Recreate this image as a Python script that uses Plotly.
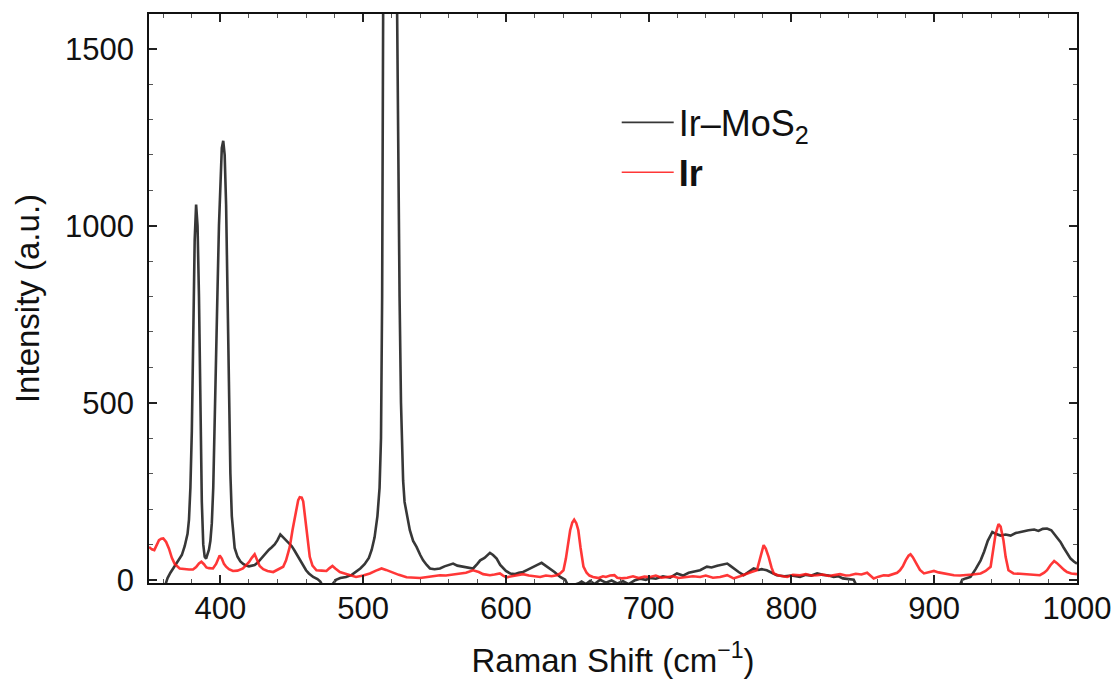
import plotly.graph_objects as go

# Ir-MoS2 spectrum (Raman shift, intensity)
mos2_x = [361, 363, 365, 367, 369, 371, 373, 375, 377, 378, 379, 380, 381, 382, 383, 384, 385, 386, 387, 388,
          389, 390, 391, 392, 393, 394, 395, 396, 397, 398, 399, 400, 401, 402, 403, 404, 405, 406, 407, 408,
          409, 410, 412, 414, 416, 418, 420, 422, 424, 426, 428, 430, 432, 434, 436, 438, 440, 442, 444, 446,
          448, 450, 452, 454, 456, 458, 460, 462, 465, 468, 470, 472, 476, 479, 481, 484, 488, 492, 495, 498,
          501, 504, 506, 508, 510, 511.5, 512.5, 513.3, 514, 515, 517, 519, 521, 523, 523.8, 524.5, 525.5, 526.5, 528, 529,
          530.4, 532.7, 535, 537.4, 540, 542, 544.5, 546.8, 550, 553.8, 557, 560, 563, 566, 570, 573, 577, 580, 582, 585,
          588.8, 591, 593.5, 596, 598, 600, 603, 606, 609, 612, 615, 619, 622, 625, 628, 631, 634, 638, 641.5, 643,
          647, 651, 653, 656, 659, 662, 666, 670, 674, 678, 682, 686, 690, 694, 698, 701, 705, 710, 715, 719.8,
          724, 728, 732, 736, 740.8, 744, 748, 751, 755, 757, 759.5, 763, 766.5, 770, 773.5, 777, 779, 782.7, 786, 789.7,
          795, 800, 806, 810, 814, 818, 822, 826, 829.6, 833, 836, 840, 843.6, 846, 900, 918, 919.6, 922, 925.4, 929,
          932.5, 935, 937.5, 940.7, 943, 946.4, 950, 953.5, 957, 960.5, 963, 966, 970, 973, 976, 979, 982, 984, 986, 988.4,
          990.5, 993, 995.5, 998, 1000]
mos2_y = [-20, 5, 20, 32, 45, 58, 70, 95, 130, 170, 260, 420, 700, 960, 1060, 1000, 800, 480, 220, 100,
          65, 60, 70, 85, 110, 160, 260, 420, 620, 820, 1000, 1140, 1220, 1240, 1200, 1060, 820, 520, 300, 180,
          120, 90, 65, 52, 45, 40, 38, 40, 42, 48, 58, 65, 75, 85, 92, 100, 112, 128, 120, 112,
          105, 95, 82, 68, 52, 38, 27, 18, 8, 2, -5, -20, -25, -10, 0, 5, 8, 14, 22, 32,
          44, 62, 85, 120, 180, 260, 400, 800, 1600, 2200, 2600, 2700, 2500, 2000, 1600, 1200, 800, 500, 280, 220,
          187, 140, 110, 93, 70, 55, 42, 32, 30, 32, 38, 42, 46, 40, 37, 35, 32, 45, 55, 62,
          76, 70, 60, 42, 32, 25, 18, 16, 20, 22, 28, 37, 42, 48, 40, 32, 22, 8, 0, -12,
          -15, -10, -5, -12, -3, -12, 0, -8, -2, -10, -4, -12, -2, 3, 0, 5, 3, 10, 6, 18,
          12, 20, 24, 27, 37, 35, 40, 42, 46, 40, 32, 22, 13, 22, 32, 28, 30, 27, 20, 13,
          10, 12, 8, 14, 12, 18, 14, 12, 8, 10, 4, 2, 0, -20, -20, -15, 0, 4, 8, 30,
          55, 80, 110, 135, 130, 125, 128, 125, 132, 135, 138, 140, 142, 138, 144, 145, 140, 130, 120, 107,
          92, 74, 60, 51, 46]

# Ir spectrum
ir_x = [350, 352, 353.7, 355, 357, 358.6, 360, 362, 364, 366, 368, 371.5, 375, 378, 380.8, 383, 385, 386.7, 388.5, 390.2,
        392, 394.8, 397, 399.5, 401, 402.5, 404, 406, 408.8, 412, 415.8, 418, 420, 422, 424, 425.5, 427.5, 430, 433, 437,
        440, 444, 446, 448.6, 450.5, 452, 453.3, 454.5, 455.6, 457, 458, 459, 460.3, 461.5, 462.6, 464.5, 467.3, 471, 474.3, 476.5,
        478.5, 480.5, 483.7, 487, 491, 495, 500, 504.7, 509, 512.9, 516, 519, 521, 525, 530.4, 535, 539.8, 545, 549, 553.8,
        558, 563, 567.8, 572, 577, 581, 584, 588.8, 592, 595.8, 598, 600.5, 604, 608, 612, 616, 620, 624, 628, 632,
        635.6, 638, 640.3, 642, 643.5, 645, 646.5, 647.8, 649.3, 650.7, 652.3, 654.3, 656.5, 658.5, 661, 665, 668, 670, 673, 676,
        678, 681, 685, 689, 693, 697, 701, 705, 709, 713, 717, 721, 727, 731, 736, 740, 745, 750, 755, 759.5,
        764, 768.8, 772, 775.8, 778, 780.5, 782, 784, 786, 787.6, 791, 797, 801, 806, 810, 814, 818, 822, 826, 829.6,
        834, 838, 841, 845, 849, 853, 855.5, 857.6, 861, 864.6, 868, 871.6, 874, 876, 878, 880, 882, 883.4, 885, 888,
        890, 892.8, 896, 899.8, 903, 906.8, 910, 913.8, 918, 923, 927, 932.5, 936, 939.5, 941.5, 943, 945, 946.5, 948.5, 950,
        952, 955.5, 960, 965, 970, 974, 977, 979, 981.5, 984, 986, 988.4, 991, 993, 996, 1000]
ir_y = [93, 86, 84, 95, 112, 116, 117, 107, 88, 62, 45, 32, 30, 29, 29, 36, 46, 51, 44, 35,
        33, 32, 45, 69, 60, 45, 37, 30, 25, 26, 32, 40, 50, 62, 72, 58, 39, 30, 25, 22,
        28, 37, 55, 93, 140, 175, 200, 225, 233, 232, 222, 190, 140, 100, 65, 40, 27, 26, 25, 33,
        39, 32, 22, 18, 12, 8, 12, 18, 26, 32, 28, 23, 20, 14, 7, 6, 5, 8, 10, 13,
        12, 15, 16, 20, 27, 22, 16, 13, 15, 18, 12, 7, 10, 14, 16, 12, 10, 8, 12, 10,
        13, 18, 27, 60, 100, 140, 162, 170, 160, 140, 90, 37, 20, 12, 8, 5, 10, 8, 12, 13,
        6, 4, 6, 10, 5, 9, 8, 12, 6, 8, 10, 5, 7, 10, 8, 12, 6, 8, 13, 4,
        10, 18, 22, 27, 60, 98, 88, 65, 35, 18, 12, 8, 14, 13, 16, 12, 13, 15, 11, 13,
        16, 12, 13, 17, 15, 20, 10, 4, 9, 13, 12, 16, 20, 27, 38, 55, 68, 72, 64, 42,
        28, 18, 22, 25, 21, 18, 15, 13, 12, 13, 15, 18, 25, 37, 90, 130, 157, 150, 111, 65,
        27, 18, 17, 16, 14, 13, 20, 27, 42, 53, 47, 37, 28, 22, 18, 16]

series_names = ["Ir–MoS<sub>2</sub>", "<b>Ir</b>"]
series_colors = ["rgba(20,20,20,0.85)", "rgba(255,20,20,0.85)"]
x_ticks = [400, 500, 600, 700, 800, 900, 1000]
y_ticks = [0, 500, 1000, 1500]

FONT = "Liberation Sans, Arial, Helvetica, sans-serif"

fig = go.Figure()
for xs, ys, name, col in [(mos2_x, mos2_y, series_names[0], series_colors[0]),
                          (ir_x, ir_y, series_names[1], series_colors[1])]:
    fig.add_trace(go.Scatter(x=xs, y=ys, mode="lines", name=name, showlegend=False, legendgroup=name,
                             line=dict(color=col, width=2.6)))
# legend entries with the thinner sample line seen in the reference
for name, col in zip(series_names, series_colors):
    fig.add_trace(go.Scatter(x=[None], y=[None], mode="lines", name=name, legendgroup=name,
                             line=dict(color=col, width=1.6)))

axis_common = dict(
    showgrid=False, zeroline=False, showline=True, linecolor="#111", linewidth=1.6,
    mirror="ticks", ticks="inside", ticklen=8, tickwidth=1.6, tickcolor="#222",
    tickfont=dict(family=FONT, size=31, color="#111"),
)
fig.update_xaxes(range=[350, 1000], tickvals=x_ticks, ticklabelstandoff=-3,
                 minor=dict(dtick=20, tick0=0, ticks="inside", ticklen=4, tickwidth=1.2, tickcolor="#555"),
                 title=dict(text="Raman Shift (cm<sup>−1</sup>)", font=dict(family=FONT, size=33, color="#111"),
                            standoff=24),
                 **axis_common)
fig.update_yaxes(range=[-9, 1598], tickvals=y_ticks, ticklabelstandoff=7,
                 minor=dict(dtick=100, tick0=0, ticks="inside", ticklen=4, tickwidth=1.2, tickcolor="#555"),
                 title=dict(text="Intensity (a.u.)", font=dict(family=FONT, size=33, color="#111"),
                            standoff=15),
                 **axis_common)

fig.update_layout(
    width=1111, height=683,
    margin=dict(l=141, r=42, t=4, b=108),
    plot_bgcolor="white", paper_bgcolor="white",
    legend=dict(x=0.504, y=0.862, xanchor="left", yanchor="top", bgcolor="rgba(0,0,0,0)",
                font=dict(family=FONT, size=36, color="#111"), itemwidth=52, tracegroupgap=0),
    showlegend=True,
)

fig.write_html("out.html")
